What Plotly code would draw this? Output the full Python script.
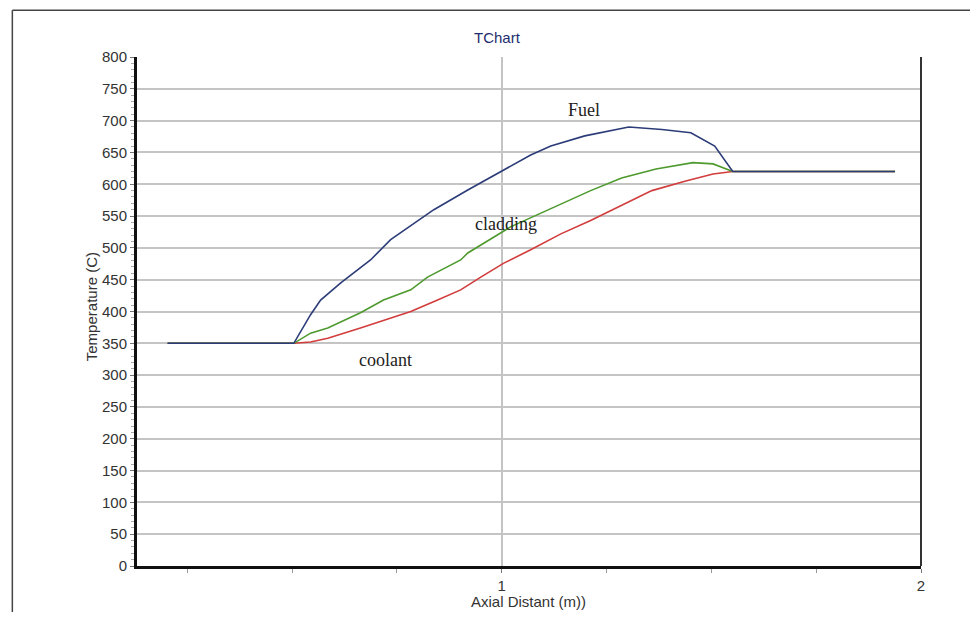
import plotly.graph_objects as go

# Data
fuel_x = [0.203, 0.504, 0.544, 0.568, 0.616, 0.647, 0.687, 0.735, 0.838, 0.919, 0.998, 1.069, 1.117,
          1.198, 1.303, 1.382, 1.451, 1.508, 1.551, 1.938]
fuel_t = [350, 350, 395, 418, 445, 461, 481, 513, 560, 591, 620, 646, 660,
          676, 690, 686, 681, 660, 620, 620]

clad_x = [0.203, 0.504, 0.544, 0.585, 0.663, 0.718, 0.783, 0.823, 0.902, 0.919, 1.021, 1.117,
          1.212, 1.286, 1.368, 1.456, 1.504, 1.551, 1.938]
clad_t = [350, 350, 366, 374, 398, 418, 434, 454, 481, 492, 533, 562,
          590, 610, 624, 634, 632, 620, 620]

cool_x = [0.203, 0.504, 0.544, 0.585, 0.663, 0.783, 0.847, 0.902, 0.950, 1.005, 1.069, 1.141,
          1.212, 1.358, 1.439, 1.504, 1.551, 1.938]
cool_t = [350, 350, 352, 358, 374, 400, 418, 434, 454, 476, 497, 522,
          543, 590, 605, 616, 620, 620]

labels = ["Fuel", "cladding", "coolant"]
label_x = [1.196, 1.01, 0.723]
label_t = [717, 538, 324]

fig = go.Figure()
fig.add_trace(go.Scatter(x=cool_x, y=cool_t, mode="lines", line=dict(color="#d23c3c", width=1.6), name="coolant"))
fig.add_trace(go.Scatter(x=clad_x, y=clad_t, mode="lines", line=dict(color="#4e9a2e", width=1.6), name="cladding"))
fig.add_trace(go.Scatter(x=fuel_x, y=fuel_t, mode="lines", line=dict(color="#2c3c78", width=1.6), name="Fuel"))

for txt, lx, lt in zip(labels, label_x, label_t):
    fig.add_annotation(x=lx, y=lt, text=txt, showarrow=False,
                       font=dict(family="Liberation Serif", size=18, color="#222"))

# titles
fig.add_annotation(xref="paper", yref="paper", x=0.460, y=1.039, text="TChart", showarrow=False,
                   xanchor="center", yanchor="middle",
                   font=dict(family="Liberation Sans", size=15, color="#1e2e6e"))
fig.add_annotation(xref="paper", yref="paper", x=-0.057, y=0.509, text="Temperature (C)", showarrow=False,
                   xanchor="center", yanchor="middle",
                   textangle=-90, font=dict(family="Liberation Sans", size=15, color="#333"))
fig.add_annotation(xref="paper", yref="paper", x=0.499, y=-0.069, text="Axial Distant (m))", showarrow=False,
                   xanchor="center", yanchor="middle",
                   font=dict(family="Liberation Sans", size=15, color="#333"))

# outer frame and right border
fig.add_shape(type="line", xref="paper", yref="paper", x0=-0.159, x1=1.09, y0=1.092, y1=1.092,
              line=dict(color="#444", width=1.5))
fig.add_shape(type="line", xref="paper", yref="paper", x0=-0.159, x1=-0.159, y0=1.092, y1=-0.12,
              line=dict(color="#444", width=1.5))
fig.add_shape(type="line", xref="paper", yref="paper", x0=1, x1=1, y0=0, y1=1,
              line=dict(color="#333", width=2))

fig.update_layout(
    width=962, height=604,
    margin=dict(l=129, r=49, t=49, b=46),
    paper_bgcolor="white", plot_bgcolor="white",
    showlegend=False,
    font=dict(family="Liberation Sans", size=15, color="#333"),
    xaxis=dict(range=[0.13, 2.0], dtick=1, tick0=0, showgrid=True, gridcolor="#c4c4c4", gridwidth=1.5,
               showline=True, linecolor="#111", linewidth=3, ticks="outside", ticklen=4,
               tickcolor="#777", zeroline=False, tickfont=dict(size=15, color="#333"),
               minor=dict(dtick=0.25, tick0=0, ticks="outside", ticklen=4, tickcolor="#999", showgrid=False)),
    yaxis=dict(range=[0, 800], dtick=50, tick0=0, showgrid=True, gridcolor="#c4c4c4", gridwidth=1.5,
               showline=True, linecolor="#111", linewidth=3, ticks="outside", ticklen=4,
               tickcolor="#777", zeroline=False, tickfont=dict(size=15, color="#333"),
               minor=dict(dtick=10, tick0=0, ticks="outside", ticklen=3, tickcolor="#aaa", showgrid=False)),
)

fig.write_html("out.html")
